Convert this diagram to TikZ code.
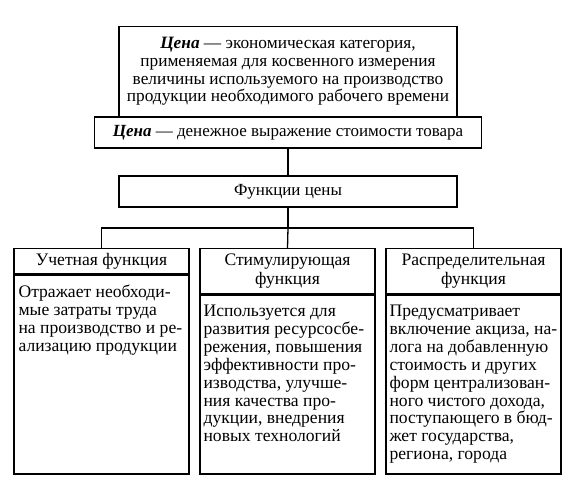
\documentclass[tikz,border=0pt]{standalone}
\usepackage{fontspec}
\setmainfont{Liberation Serif}
\tikzstyle{pricebox}=[draw=black,line width=1.3pt,inner sep=0pt,
                      align=center,font=\fontsize{17}{17.7}\selectfont]
\tikzstyle{headbox}=[pricebox,anchor=north,minimum width=175pt,
                     font=\fontsize{17.6}{18.3}\selectfont]
\tikzstyle{bodybox}=[draw=black,line width=1.3pt,inner sep=0pt,
                     anchor=north,minimum width=175pt]
\tikzstyle{bodytext}=[inner sep=0pt,align=left,anchor=north west,
                      font=\fontsize{17.6}{17.9}\selectfont]

\begin{document}
\begin{tikzpicture}[x=1pt,y=-1pt]
    \useasboundingbox (0,0) rectangle (573,494);
    \node (def) at (288,71.5) [pricebox,minimum width=338pt,minimum height=89.5pt,
                                font=\fontsize{17.3}{17.8}\selectfont]
      {\textbf{\textit{Цена}} — экономическая категория,\\
       применяемая для косвенного измерения\\
       величины используемого на производство\\
       продукции необходимого рабочего времени};
    \node (money) at (288,132.5) [pricebox,minimum width=387pt,minimum height=31pt]
      {\textbf{\textit{Цена}} — денежное выражение стоимости товара};
    \node (func) at (288,191.5) [pricebox,minimum width=338pt,minimum height=31pt]
      {Функции цены};
    \node (h1) at (101.5,248) [headbox,minimum height=25pt]{Учетная функция};
    \node (h2) at (287.5,248) [headbox,minimum height=45pt]{Стимулирующая\\функция};
    \node (h3) at (473.5,248) [headbox,minimum height=45pt]{Распределительная\\функция};
    \node (b1) at (h1.south) [bodybox,minimum height=199pt]{};
    \node (b2) at (h2.south) [bodybox,minimum height=179pt]{};
    \node (b3) at (h3.south) [bodybox,minimum height=179pt]{};
    \node (t1) at ([xshift=5pt,yshift=-10.5pt]b1.north west) [bodytext]
      {Отражает необходи-\\мые затраты труда\\на производство и ре-\\ализацию продукции};
    \node (t2) at ([xshift=4pt,yshift=-10.5pt]b2.north west) [bodytext]
      {Используется для\\развития ресурсосбе-\\режения, повышения\\эффективности про-\\
       изводства, улучше-\\ния качества про-\\дукции, внедрения\\новых технологий};
    \node (t3) at ([xshift=4pt,yshift=-10.5pt]b3.north west) [bodytext]
      {Предусматривает\\включение акциза, на-\\лога на добавленную\\стоимость и других\\
       форм централизован-\\ного чистого дохода,\\поступающего в бюд-\\жет государства,\\
       региона, города};
    \coordinate (fork) at (288,228);
    \draw[line width=1.3pt] (money) -- (func) -- (fork);
    \draw[line width=1.3pt] (h1.north) |- (fork) -| (h3.north);
    \draw[line width=1.3pt] (fork) -- (h2.north);
  \end{tikzpicture}
\end{document}
